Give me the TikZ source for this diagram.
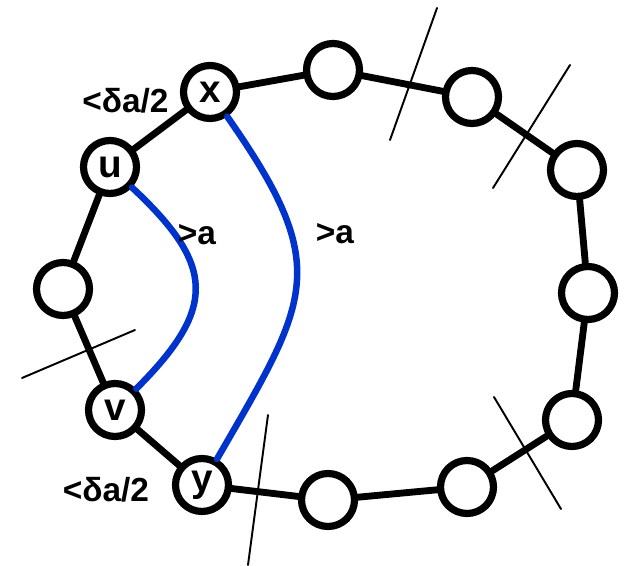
\documentclass[tikz,border=0pt]{standalone}
\usepackage{fontspec}
\setmainfont{Liberation Sans}
\definecolor{ink}{HTML}{000000}
\definecolor{chordblue}{HTML}{0033CC}

\begin{document}
\begin{tikzpicture}[line cap=round, line join=round,
  vert/.style={circle, draw=ink, fill=white, line width=4.1pt, minimum size=1.06cm, inner sep=0pt,
               font=\fontsize{22}{24}\selectfont\bfseries, text=ink},
  ring/.style={ink, line width=3.9pt},
  chord/.style={chordblue, line width=3.7pt},
  cut/.style={ink, line width=1.1pt},
  lbl/.style={font=\fontsize{19}{22}\selectfont\bfseries, text=ink, anchor=base, inner sep=0pt}]

\useasboundingbox (0,0) rectangle (12.56,11.32);

% ---------------- vertices of the cycle ----------------
\foreach \nm/\px/\py/\txt in {x/4.20/9.48/x, top1/6.66/9.92/, top2/9.44/9.38/, rt1/11.54/7.92/,
                              rt2/11.76/5.46/, rt3/11.44/2.92/, bot2/9.34/1.58/, bot1/6.56/1.32/,
                              y/4.04/1.62/y, v/2.30/3.12/v, left/1.26/5.54/, u/2.20/7.98/u}
  \node[vert] (\nm) at (\px,\py) {\txt};

% ---------------- cycle edges ----------------
\foreach \a/\b in {x/top1, top1/top2, top2/rt1, rt1/rt2, rt2/rt3, rt3/bot2, bot2/bot1,
                   bot1/y, y/v, v/left, left/u, u/x}
  \draw[ring] (\a) -- (\b);

% ---------------- cuts ----------------
\draw[cut] (8.74,11.16) -- (7.80,8.52);
\draw[cut] (11.40,10.02) -- (9.86,7.56);
\draw[cut] (0.44,3.76) -- (2.70,4.72);
\draw[cut] (5.36,3.02) -- (4.96,0.02);
\draw[cut] (9.88,3.38) -- (11.22,1.14);

% ---------------- long chords ----------------
\draw[chord] (u) to[out=-43, in=45, looseness=1.45] (v);
\draw[chord] (x.-55) .. controls +(-55:3.7) and +(60:3.7) .. (y.60);

% ---------------- labels ----------------
\node[lbl] (dx) at (2.51,9.06) {<δa/2};
\node[lbl] (dy) at (2.12,1.28) {<δa/2};
\node[lbl] (ga) at (3.94,6.42) {>a};
\node[lbl] (gb) at (6.70,6.44) {>a};

\end{tikzpicture}
\end{document}
